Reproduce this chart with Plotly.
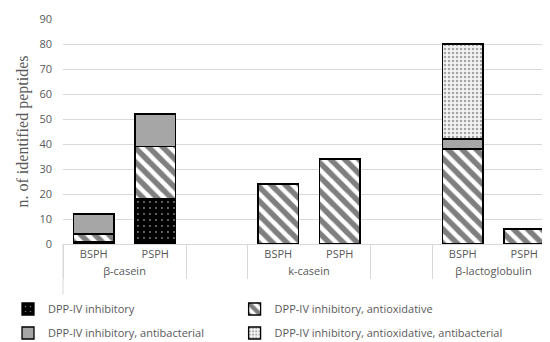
import plotly.graph_objects as go

groups = ["β-casein", "β-casein", " ", "k-casein", "k-casein", "  ", "β-lactoglobulin", "β-lactoglobulin"]
subs = ["BSPH", "PSPH", " ", "BSPH", "PSPH", "  ", "BSPH", "PSPH"]

dpp_inhib = [1, 18, None, None, None, None, None, None]
dpp_antiox = [3, 21, None, 24, 34, None, 38, 6]
dpp_antibac = [8, 13, None, None, None, None, 4, None]
dpp_antiox_antibac = [None, None, None, None, None, None, 38, None]

x = [groups, subs]
line = dict(color="black", width=1.3)

fig = go.Figure()
fig.add_trace(go.Bar(x=x, y=dpp_inhib, name="DPP-IV inhibitory", legend="legend",
                     marker=dict(color="black", line=line,
                                 pattern=dict(shape=".", fgcolor="white", bgcolor="black", size=6, solidity=0.08))))
fig.add_trace(go.Bar(x=x, y=dpp_antiox, name="DPP-IV inhibitory, antioxidative", legend="legend2",
                     marker=dict(color="white", line=line,
                                 pattern=dict(shape="\\", fgcolor="black", bgcolor="white", size=10, solidity=0.55))))
fig.add_trace(go.Bar(x=x, y=dpp_antibac, name="DPP-IV inhibitory, antibacterial", legend="legend3",
                     marker=dict(color="#a6a6a6", line=line)))
fig.add_trace(go.Bar(x=x, y=dpp_antiox_antibac, name="DPP-IV inhibitory, antioxidative, antibacterial", legend="legend4",
                     marker=dict(color="white", line=line,
                                 pattern=dict(shape=".", fgcolor="#555555", bgcolor="#f2f2f2", size=4, solidity=0.3))))

leg = dict(orientation="h", xref="container", yref="container", yanchor="middle",
           font=dict(size=11, color="#595959"), itemwidth=30, bgcolor="rgba(0,0,0,0)")
fig.update_layout(
    width=550, height=342,
    barmode="stack", bargap=0.34,
    plot_bgcolor="white", paper_bgcolor="white",
    margin=dict(l=55, r=3, t=11, b=106, autoexpand=False),
    font=dict(family="Open Sans", size=11, color="#595959"),
    legend=dict(leg, x=-0.03, y=1 - 301 / 342),
    legend2=dict(leg, x=0.412, y=1 - 301 / 342),
    legend3=dict(leg, x=-0.03, y=1 - 325 / 342),
    legend4=dict(leg, x=0.412, y=1 - 325 / 342),
    showlegend=True,
)
for xe in (0, 1):
    fig.add_shape(type="line", xref="paper", yref="paper", x0=xe, x1=xe, y0=0, y1=-0.225,
                  line=dict(color="#d9d9d9", width=1))
fig.update_yaxes(range=[0, 90], dtick=10, showgrid=True, gridcolor="#d9d9d9", gridwidth=1,
                 zeroline=False, showline=False, ticks="", ticklabelstandoff=10,
                 title=dict(text="n. of identified peptides", font=dict(family="Liberation Serif", size=16, color="#595959"), standoff=6))
fig.update_xaxes(type="multicategory", showline=True, linecolor="#d9d9d9", linewidth=1,
                 showdividers=True, dividercolor="#d9d9d9", dividerwidth=1, ticks="",
                 tickfont=dict(size=11, color="#595959"))

fig.write_html("out.html")
